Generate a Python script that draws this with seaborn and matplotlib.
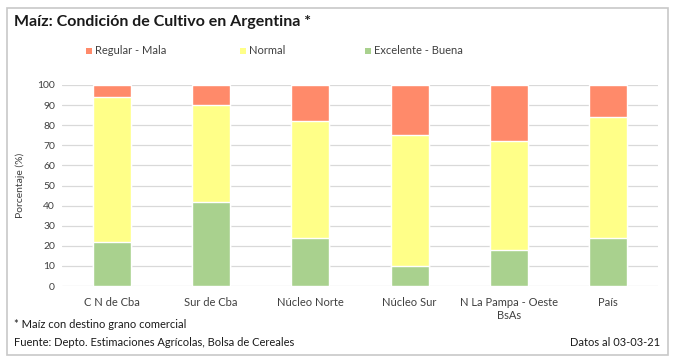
import matplotlib
matplotlib.use("Agg")
import matplotlib.pyplot as plt
from matplotlib.patches import Rectangle
import seaborn as sns
import pandas as pd
import numpy as np

# values (percent)
regions = ["C N de Cba", "Sur de Cba", "Núcleo Norte", "Núcleo Sur",
           "N La Pampa - Oeste\nBsAs", "País"]
excelente_buena = [22, 42, 24, 10, 18, 24]
normal = [72, 48, 58, 65, 54, 60]
regular_mala = [6, 10, 18, 25, 28, 16]

series_names = ["Regular - Mala", "Normal", "Excelente - Buena"]
colors = {"Regular - Mala": "#FF8A6A", "Normal": "#FFFF88",
          "Excelente - Buena": "#A9D18E"}

df = pd.DataFrame({"region": regions,
                   "exc": excelente_buena,
                   "norm": normal,
                   "reg": regular_mala})
df["top_norm"] = df["exc"] + df["norm"]
df["top_reg"] = df["top_norm"] + df["reg"]

sns.set_theme(style="white")
plt.rcParams["font.family"] = ["Lato", "DejaVu Sans"]

fig = plt.figure(figsize=(6.76, 3.6), dpi=100)
ax = fig.add_axes([62 / 676, 1 - 286 / 360, (658 - 62) / 676, (286 - 85) / 360])

# stacked bars drawn as cumulative layers
sns.barplot(data=df, x="region", y="top_reg", color=colors["Regular - Mala"],
            width=0.38, saturation=1, ax=ax, zorder=3)
sns.barplot(data=df, x="region", y="top_norm", color=colors["Normal"],
            width=0.38, saturation=1, ax=ax, zorder=3)
sns.barplot(data=df, x="region", y="exc", color=colors["Excelente - Buena"],
            width=0.38, saturation=1, ax=ax, zorder=3)

ax.set_ylim(0, 100)
ax.set_yticks(np.arange(0, 101, 10))
ax.yaxis.grid(True, color="#D9D9D9", linewidth=0.9, zorder=0)
ax.set_axisbelow(True)
for s in ax.spines.values():
    s.set_visible(False)
ax.set_xlabel("")
ax.set_ylabel("Porcentaje (%)", fontsize=7.5, color="#404040", labelpad=9)
ax.tick_params(axis="y", labelsize=7.5, colors="#404040", length=0, pad=5)
ax.tick_params(axis="x", labelsize=8, colors="#404040", length=0, pad=8)

# title
fig.text(14 / 676, 1 - 22 / 360, "Maíz: Condición de Cultivo en Argentina *",
         fontsize=11.5, fontweight="bold", color="#1a1a1a", va="center")

# legend
leg_x = [86, 240, 365]
for name, lx in zip(series_names, leg_x):
    fig.patches.append(Rectangle((lx / 676, 1 - 54 / 360), 6 / 676, 6 / 360,
                                 transform=fig.transFigure, facecolor=colors[name],
                                 edgecolor="none"))
    fig.text((lx + 9) / 676, 1 - 51 / 360, name, fontsize=8, color="#404040",
             va="center")

# footer
fig.text(14 / 676, 1 - 325 / 360, "* Maíz con destino grano comercial",
         fontsize=8, color="#1a1a1a", va="center")
fig.text(14 / 676, 1 - 343 / 360, "Fuente: Depto. Estimaciones Agrícolas, Bolsa de Cereales",
         fontsize=8, color="#1a1a1a", va="center")
fig.text(660 / 676, 1 - 343 / 360, "Datos al 03-03-21",
         fontsize=8, color="#1a1a1a", va="center", ha="right")

# outer frame
fig.patches.append(Rectangle((7 / 676, 1 - 355 / 360), 661 / 676, 347 / 360,
                             transform=fig.transFigure, facecolor="none",
                             edgecolor="#C8C8C8", linewidth=1.2))

fig.savefig("out.png", dpi=100)
